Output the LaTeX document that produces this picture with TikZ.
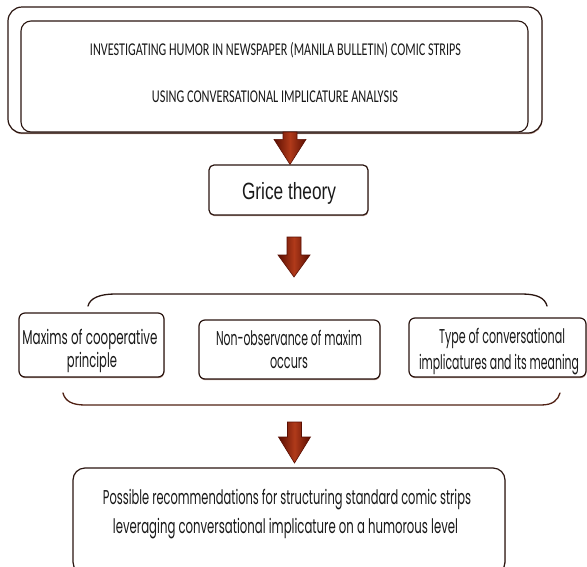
\documentclass[tikz,border=0pt]{standalone}
\usepackage{fontspec}
\usepackage{graphicx}
\usetikzlibrary{calc,shadows}
\newfontfamily\titlefont{Carlito}
\newfontfamily\gricefont{Liberation Sans}
\newfontfamily\bodyfont{Poppins}
\newcommand\sq[2]{\resizebox{#1}{\height}{#2}}
\definecolor{boxline}{HTML}{2A1510}
\definecolor{brownline}{HTML}{6B2A18}
\definecolor{arrowdark}{HTML}{5A0E02}
\definecolor{arrowmid}{HTML}{B03A1A}
\definecolor{shadowc}{HTML}{9A6A5A}
\tikzset{
  box/.style={draw=boxline, line width=1.2pt, fill=white, inner sep=0pt,
    drop shadow={shadow xshift=0.4pt, shadow yshift=-1.2pt, fill=shadowc, opacity=0.7}},
  txt/.style={anchor=base, inner sep=0pt, text=black!90},
  ttl/.style={txt, font=\titlefont\fontsize{18}{18}\selectfont},
  bdy/.style={txt, font=\bodyfont\fontsize{20}{20}\selectfont},
  brace/.style={draw=boxline, line width=1.3pt, line cap=round},
  arrowsh/.style={left color=arrowdark, right color=arrowdark, middle color=arrowmid,
    draw=arrowdark, line width=0.6pt, line join=miter}
}
\newcommand\barrow[3]{%
  \shade[arrowsh] ($(#1)+(-7,0)$) -- ($(#1)+(7,0)$) -- ($(#2)+(7,-#3)$) -- ($(#2)+(16,-#3)$)
    -- (#2) -- ($(#2)+(-16,-#3)$) -- ($(#2)+(-7,-#3)$) -- cycle;}
\begin{document}
\begin{tikzpicture}[x=1pt,y=-1pt]
\useasboundingbox (0,0) rectangle (587,566);
\fill[white] (0,0) rectangle (587,566);

% top title boxes
\node[box, rounded corners=14pt, minimum width=534pt, minimum height=126pt] (outer) at (275,70) {};
\node[draw=boxline, line width=1.1pt, fill=white, inner sep=0pt, rounded corners=10pt,
      minimum width=507pt, minimum height=111pt] (inner) at (274.5,76.5) {};
\node[ttl] (t1) at (275.5,55.7) {\sq{371pt}{INVESTIGATING HUMOR IN NEWSPAPER (MANILA BULLETIN) COMIC STRIPS}};
\node[ttl] (t2) at (275,102.7) {\sq{246pt}{USING CONVERSATIONAL IMPLICATURE ANALYSIS}};

% Grice theory
\node[box, rounded corners=5pt, minimum width=159pt, minimum height=50pt] (grice) at (288.5,190) {};
\node[txt, font=\gricefont\fontsize{23.5}{23.5}\selectfont] (gt) at (289,199) {\sq{94pt}{Grice theory}};

% three boxes
\node[box, rounded corners=6pt, minimum width=145pt, minimum height=64pt] (left) at (91.5,345) {};
\node[box, rounded corners=6pt, minimum width=181pt, minimum height=59pt] (mid) at (289.5,349.5) {};
\node[box, rounded corners=6pt, minimum width=177pt, minimum height=59pt] (right) at (497.5,347.5) {};
\node[bdy] (l1) at (90,344) {\sq{135pt}{Maxims of cooperative}};
\node[bdy] (l2) at (92,367) {\sq{50pt}{principle}};
\node[bdy] (m1) at (289,345) {\sq{146pt}{Non-observance of maxim}};
\node[bdy] (m2) at (289,368) {\sq{38pt}{occurs}};
\node[bdy] (r1) at (502,343) {\sq{126pt}{Type of conversational}};
\node[bdy] (r2) at (499,369) {\sq{160pt}{implicatures and its meaning}};

% bottom box
\node[box, rounded corners=12pt, minimum width=432pt, minimum height=106pt] (rec) at (289,521) {};
\node[bdy] (b1) at (287,504) {\sq{368pt}{Possible recommendations for structuring standard comic strips}};
\node[bdy] (b2) at (285.5,533) {\sq{345pt}{leveraging conversational implicature on a humorous level}};

% braces
\draw[brace] (88,306) .. controls (90,298) and (100,294) .. (115,294) -- (522,294)
  .. controls (537,294) and (545,298) .. (547,306);
\draw[brace, draw=brownline!60!boxline] (63,393) .. controls (65,401) and (72,405) .. (85,405) -- (541,405)
  .. controls (553,405) and (558,400) .. (560,393);

% arrows
\coordinate (a1s) at (290,132);
\coordinate (a1t) at (grice.north -| a1s);
\coordinate (a2s) at (294,237);
\coordinate (a2t) at (294,277);
\coordinate (a3s) at (294.5,422);
\coordinate (a3t) at (294.5,463);
\barrow{a1s}{a1t}{25}
\barrow{a2s}{a2t}{22}
\barrow{a3s}{a3t}{26}
\end{tikzpicture}
\end{document}
